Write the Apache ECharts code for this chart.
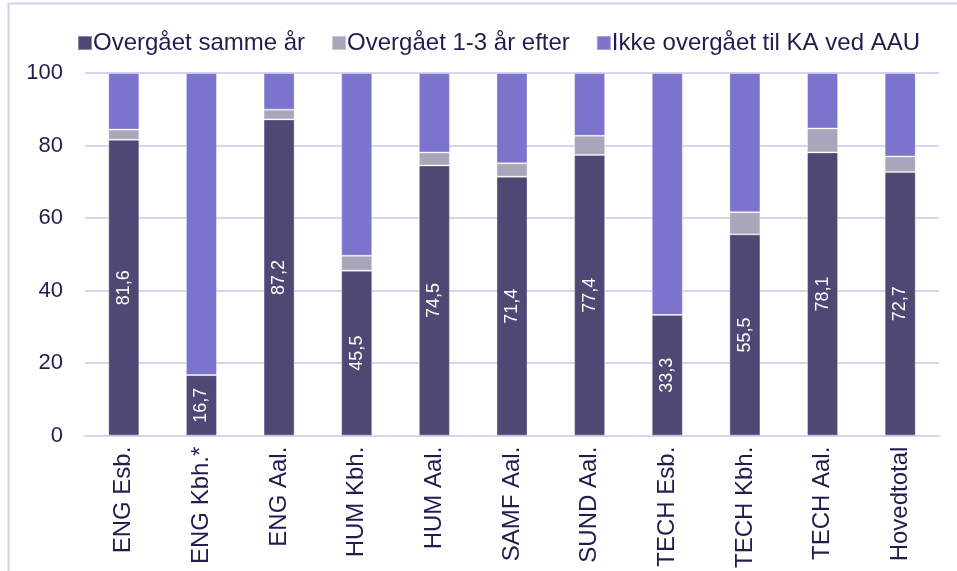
<!DOCTYPE html>
<html>
<head>
<meta charset="utf-8">
<script src="https://cdn.jsdelivr.net/npm/echarts@6/dist/echarts.min.js"></script>
<style>
  html, body { margin: 0; padding: 0; background: #fff; }
  #chart { width: 957px; height: 571px; }
</style>
</head>
<body>
<div id="chart"></div>
<script>
var categories = ['ENG Esb.', 'ENG Kbh.*', 'ENG Aal.', 'HUM Kbh.', 'HUM Aal.', 'SAMF Aal.', 'SUND Aal.', 'TECH Esb.', 'TECH Kbh.', 'TECH Aal.', 'Hovedtotal'];
var sammeAar = [81.6, 16.7, 87.2, 45.5, 74.5, 71.4, 77.4, 33.3, 55.5, 78.1, 72.7];
var efter13 = [2.8, 0, 2.7, 4.1, 3.6, 3.7, 5.3, 0, 6.1, 6.6, 4.3];
var ikkeOvergaaet = [15.6, 83.3, 10.1, 50.4, 21.9, 24.9, 17.3, 66.7, 38.4, 15.3, 23.0];
var yTicks = [0, 20, 40, 60, 80, 100];

var txt = '#221d4f';
var gridCol = '#d8d3f3';
var chart = echarts.init(document.getElementById('chart'));

// kommatal som i den danske udgave
function komma(v) { return v.toFixed(1).replace('.', ','); }

chart.setOption({
  animation: false,
  textStyle: { fontFamily: 'Liberation Sans, Arial, sans-serif' },
  graphic: [{
    type: 'rect',
    shape: { x: 8.5, y: 3.5, width: 1200, height: 1200 },
    style: { fill: 'none', stroke: '#d3cfee', lineWidth: 2 }
  }],
  legend: {
    top: 26,
    left: 72,
    icon: 'rect',
    itemWidth: 14,
    itemHeight: 14,
    itemGap: 26,
    textStyle: { color: txt, fontSize: 24, padding: [0, 0, 0, -4] },
    data: ['Overgået samme år', 'Overgået 1-3 år efter', 'Ikke overgået til KA ved AAU']
  },
  grid: { left: 85, right: 18, top: 73, bottom: 133 },
  xAxis: {
    type: 'category',
    data: categories,
    axisLine: { lineStyle: { color: gridCol, width: 2 } },
    axisTick: { show: false },
    axisLabel: { rotate: 90, color: txt, fontSize: 24, margin: 11 }
  },
  yAxis: {
    type: 'value',
    min: yTicks[0],
    max: yTicks[yTicks.length - 1],
    interval: 20,
    axisLine: { show: false },
    axisTick: { show: false },
    splitLine: { lineStyle: { color: gridCol, width: 2 } },
    axisLabel: { color: txt, fontSize: 22, margin: 22 }
  },
  series: [
    {
      name: 'Overgået samme år',
      type: 'bar',
      stack: 'a',
      barWidth: '40%',
      data: sammeAar,
      itemStyle: { color: '#4e4874', borderColor: 'rgba(255,255,255,0.35)', borderWidth: 1 },
      label: {
        show: true,
        position: 'inside',
        rotate: 90,
        color: '#fff',
        fontSize: 18,
        formatter: function (p) { return komma(p.value); }
      }
    },
    {
      name: 'Overgået 1-3 år efter',
      type: 'bar',
      stack: 'a',
      data: efter13,
      itemStyle: { color: '#a9a5bb', borderColor: 'rgba(255,255,255,0.35)', borderWidth: 1 }
    },
    {
      name: 'Ikke overgået til KA ved AAU',
      type: 'bar',
      stack: 'a',
      data: ikkeOvergaaet,
      itemStyle: { color: '#7b73cc', borderColor: 'rgba(255,255,255,0.35)', borderWidth: 1 }
    }
  ]
});
</script>
</body>
</html>
